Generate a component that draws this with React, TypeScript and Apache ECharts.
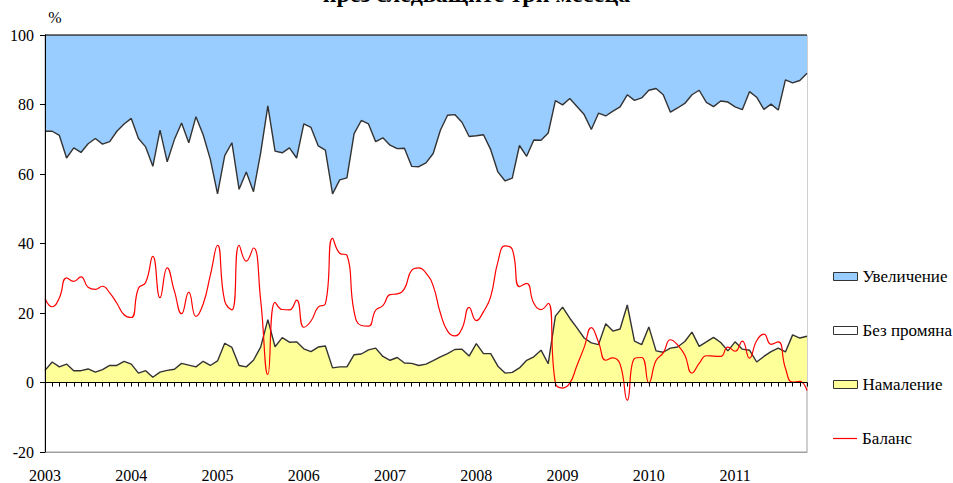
import React, { useEffect, useRef } from "react";
import * as echarts from "echarts";

// Monthly data, Jan 2003 – Nov 2011 (percent of respondents)
const decrease = [
  3.5, 5.9, 4.5, 5.3, 3.4, 3.4, 3.9, 3.0, 3.7, 4.9, 4.9, 6.1,
  5.3, 2.7, 3.4, 1.5, 3.0, 3.5, 3.8, 5.5, 5.0, 4.5, 6.1, 4.9,
  6.2, 11.3, 10.1, 4.9, 4.5, 6.4, 10.2, 18.1, 10.3, 12.9, 11.6, 11.7,
  9.7, 8.9, 10.2, 10.5, 4.2, 4.5, 4.5, 8.0, 8.2, 9.4, 9.9, 7.5,
  6.4, 7.2, 5.6, 5.5, 4.9, 5.3, 6.3, 7.4, 8.3, 9.5, 9.6, 7.6,
  11.2, 8.3, 8.3, 4.7, 2.7, 2.9, 4.2, 6.4, 7.4, 9.3, 5.4, 19.1,
  21.7, 18.5, 15.7, 12.8, 11.4, 10.9, 16.9, 14.8, 15.4, 22.3, 11.9, 10.9,
  16.0, 9.1, 8.7, 9.9, 10.2, 11.8, 14.5, 10.4, 11.7, 13.0, 11.5, 9.1,
  11.7, 9.6, 9.3, 5.9, 7.5, 8.9, 9.9, 8.8, 13.7, 12.8, 13.3,
];

const noChange = [
  68.8, 66.4, 66.6, 59.3, 64.1, 62.8, 64.8, 67.2, 64.9, 64.4, 67.4, 68.3,
  70.7, 67.5, 64.4, 60.7, 69.6, 60.0, 66.1, 69.2, 64.0, 72.0, 65.2, 59.3,
  48.1, 54.0, 58.9, 50.7, 56.1, 48.5, 55.9, 61.5, 56.3, 53.2, 55.9, 52.9,
  64.7, 64.5, 57.9, 56.4, 50.1, 53.8, 54.4, 63.6, 67.2, 65.0, 59.4, 62.9,
  61.9, 60.1, 61.8, 56.7, 57.2, 57.9, 59.6, 65.2, 68.6, 67.6, 65.3, 63.2,
  59.8, 63.0, 58.7, 55.9, 55.3, 55.9, 64.0, 58.7, 62.4, 60.4, 66.4, 62.0,
  58.2, 63.2, 63.7, 64.3, 61.4, 66.6, 59.8, 63.3, 63.9, 60.5, 69.3, 71.0,
  68.1, 75.5, 74.1, 67.9, 68.8, 68.5, 68.3, 73.7, 68.9, 66.4, 69.5, 71.6,
  67.6, 68.9, 74.4, 76.2, 71.1, 71.2, 68.5, 78.3, 72.5, 74.1, 75.7,
];

const increase = [
  27.7, 27.7, 28.9, 35.4, 32.5, 33.8, 31.3, 29.8, 31.4, 30.7, 27.7, 25.6,
  24.0, 29.8, 32.2, 37.8, 27.4, 36.5, 30.1, 25.3, 31.0, 23.5, 28.7, 35.8,
  45.7, 34.7, 31.0, 44.4, 39.4, 45.1, 33.9, 20.4, 33.4, 33.9, 32.5, 35.4,
  25.6, 26.6, 31.9, 33.1, 45.7, 41.7, 41.1, 28.4, 24.6, 25.6, 30.7, 29.6,
  31.7, 32.7, 32.6, 37.8, 37.9, 36.8, 34.1, 27.4, 23.1, 22.9, 25.1, 29.2,
  29.0, 28.7, 33.0, 39.4, 42.0, 41.2, 31.8, 34.9, 30.2, 30.3, 28.2, 18.9,
  20.1, 18.3, 20.6, 22.9, 27.2, 22.5, 23.3, 21.9, 20.7, 17.2, 18.8, 18.1,
  15.9, 15.4, 17.2, 22.2, 21.0, 19.7, 17.2, 15.9, 19.4, 20.6, 19.0, 19.3,
  20.7, 21.5, 16.3, 17.9, 21.4, 19.9, 21.6, 12.9, 13.8, 13.1, 11.0,
];

const balance = [
  24.2, 21.8, 24.4, 30.1, 29.1, 30.4, 27.4, 26.8, 27.7, 25.8, 22.8, 19.5,
  18.7, 27.1, 28.8, 36.3, 24.4, 33.0, 26.3, 19.8, 26.0, 19.0, 22.6, 30.9,
  39.5, 23.4, 20.9, 39.5, 34.9, 38.7, 23.7, 2.3, 23.1, 21.0, 20.9, 23.7,
  15.9, 17.7, 21.7, 22.6, 41.5, 37.2, 36.6, 20.4, 16.4, 16.2, 20.8, 22.1,
  25.3, 25.5, 27.0, 32.3, 33.0, 31.5, 27.8, 20.0, 14.8, 13.4, 15.5, 21.6,
  17.8, 20.4, 24.7, 34.7, 39.3, 38.3, 27.6, 28.5, 22.8, 21.0, 22.8, -0.2,
  -1.6, -0.2, 4.9, 10.1, 15.8, 11.6, 6.4, 7.1, 5.3, -5.1, 6.9, 7.2,
  -0.1, 6.3, 8.5, 12.3, 10.8, 7.9, 2.7, 5.5, 7.7, 7.6, 7.5, 10.2,
  9.0, 11.9, 7.0, 12.0, 13.9, 11.0, 11.7, 4.1, 0.1, 0.3, -2.3,
];

const firstYear = 2003;
const yTicks = { min: -20, max: 100, step: 20 };
const seriesNames = ["Намаление", "Без промяна", "Увеличение", "Баланс"];
const titleText = "през следващите три месеца";
const unitLabel = "%";

const categories = decrease.map(
  (_, i) => `${firstYear + Math.floor(i / 12)}-${String((i % 12) + 1).padStart(2, "0")}`
);

const FONT = "Liberation Serif";
const LINE = "#333333";

export default function App() {
  const ref = useRef<HTMLDivElement>(null);

  useEffect(() => {
    if (!ref.current) return;
    const chart = echarts.init(ref.current, null, { renderer: "svg" });

    const areaSeries = (name: string, data: number[], fill: string) => ({
      name,
      type: "line",
      stack: "total",
      data,
      color: fill,
      symbol: "none",
      showSymbol: false,
      lineStyle: { color: LINE, width: 1.4 },
      areaStyle: { color: fill, opacity: 1 },
      itemStyle: { color: fill },
      z: 2,
    });

    const legendText = { fontFamily: FONT, fontSize: 17, color: "#000", lineHeight: 17 };

    chart.setOption({
      animation: false,
      backgroundColor: "#ffffff",
      textStyle: { fontFamily: FONT },
      grid: {
        left: 45,
        right: 146,
        top: 35,
        bottom: 29,
        show: true,
        borderColor: "#a0a0a0",
        borderWidth: 1,
        backgroundColor: "transparent",
      },
      legend: [
        {
          data: [
            { name: seriesNames[2], icon: "rect" },
            { name: seriesNames[1], icon: "rect" },
            { name: seriesNames[0], icon: "rect" },
          ],
          orient: "vertical",
          left: 828,
          top: 263,
          padding: 5,
          itemWidth: 24,
          itemHeight: 8,
          itemGap: 37,
          itemStyle: { borderColor: "#333", borderWidth: 1 },
          textStyle: legendText,
          selectedMode: false,
        },
        {
          data: [{ name: seriesNames[3], icon: "rect" }],
          orient: "vertical",
          left: 828,
          top: 425,
          padding: 5,
          itemWidth: 24,
          itemHeight: 1.2,
          itemStyle: { color: "#FF0000", borderWidth: 0 },
          textStyle: legendText,
          selectedMode: false,
        },
      ],
      xAxis: [
        {
          type: "category",
          data: categories,
          boundaryGap: false,
          position: "bottom",
          axisLine: { onZero: true, lineStyle: { color: "#000", width: 1 } },
          axisTick: { show: true, interval: 0, length: 4, lineStyle: { color: "#000" } },
          axisLabel: { show: false },
          splitLine: { show: false },
          z: 5,
        },
        {
          type: "category",
          data: categories,
          boundaryGap: false,
          position: "bottom",
          axisLine: { onZero: false, lineStyle: { color: "#a0a0a0", width: 1 } },
          axisTick: { show: false },
          axisLabel: {
            show: true,
            interval: 11,
            margin: 15,
            fontFamily: FONT,
            fontSize: 16,
            color: "#000",
            formatter: (v: string) => v.slice(0, 4),
          },
          splitLine: { show: false },
        },
      ],
      yAxis: {
        type: "value",
        min: yTicks.min,
        max: yTicks.max,
        interval: yTicks.step,
        axisLine: { show: true, lineStyle: { color: "#000", width: 1 } },
        axisTick: { show: true, length: 5, lineStyle: { color: "#000" } },
        axisLabel: { fontFamily: FONT, fontSize: 16, color: "#000", margin: 11 },
        splitLine: { show: false },
        z: 5,
      },
      graphic: [
        {
          type: "text",
          left: "center",
          top: -18,
          style: {
            text: titleText,
            font: `bold 24px ${FONT}`,
            fill: "#000",
          },
        },
        {
          type: "text",
          x: 55,
          y: 17,
          style: {
            text: unitLabel,
            font: `16px ${FONT}`,
            fill: "#000",
            align: "center",
            verticalAlign: "middle",
          },
        },
      ],
      series: [
        areaSeries(seriesNames[0], decrease, "#FFFF99"),
        areaSeries(seriesNames[1], noChange, "#FFFFFF"),
        areaSeries(seriesNames[2], increase, "#99CCFF"),
        {
          name: seriesNames[3],
          type: "line",
          data: balance,
          smooth: 0.5,
          symbol: "none",
          showSymbol: false,
          color: "#FF0000",
          lineStyle: { color: "#FF0000", width: 1.2 },
          itemStyle: { color: "#FF0000" },
          z: 4,
        },
      ],
    });

    return () => chart.dispose();
  }, []);

  return (
    <div
      ref={ref}
      style={{ position: "absolute", left: 0, top: 0, width: 953, height: 483 }}
    />
  );
}
